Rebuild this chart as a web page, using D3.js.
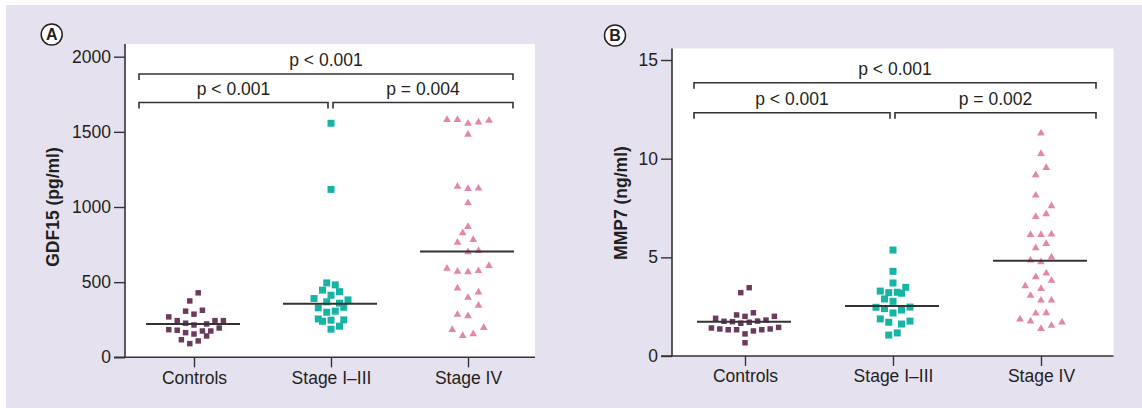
<!DOCTYPE html>
<html>
<head>
<meta charset="utf-8">
<script src="https://cdn.jsdelivr.net/npm/d3@7"></script>
<style>
  html, body { margin: 0; padding: 0; background: #ffffff; }
  svg { display: block; font-family: "Liberation Sans", Arial, sans-serif; }
</style>
</head>
<body>
<svg id="chart" width="1142" height="408"></svg>
<script>
// ---------------- DATA ----------------
const categories = ["Controls", "Stage I\u2013III", "Stage IV"];

const gdfTicks = [0, 500, 1000, 1500, 2000];
const mmpTicks = [0, 5, 10, 15];

// GDF15 (pg/ml)
const gdfControls = [429, 375, 307, 313, 287, 269, 244, 227, 215, 222, 244, 244, 184, 180, 164, 155, 175, 175, 195, 142, 117, 109, 91];
const gdfControlsSlot = [0.5, -0.5, -1, 1, 0, -3, -2, -1, 0, 1.5, 2.5, 3.5, -3, -2, -1, 0, 1, 2, 3, 1.5, -1.5, 0.5, -0.5];
const gdfEarly = [1557, 1117, 495, 482, 447, 437, 413, 391, 382, 369, 360, 333, 329, 300, 307, 255, 240, 247, 249, 187, 207];
const gdfEarlySlot = [0, 0, -0.5, 0.5, -1, 1, 0, -2, 2, -0.5, 1, 1.5, -1.5, -0.5, 0.5, -1.5, -1, 0, 1.5, 0, 1];
const gdfLate = [1580, 1580, 1555, 1564, 1575, 1482, 1137, 1122, 1124, 1027, 869, 827, 782, 764, 700, 709, 591, 571, 567, 575, 609, 460, 397, 433, 344, 284, 275, 184, 144, 155, 197];
const gdfLateSlot = [-2, -1, 0, 1, 2, 0, -1, 0, 1, 0, 0, -0.5, 0.5, -1, 0, 1, -2, -1, 0, 1, 2, -1, 0, 1, 1, -1, 0, -1.5, -0.5, 0.5, 1.5];
const gdfMedians = [222, 357, 704];
const gdfPvalues = ["p < 0.001", "p < 0.001", "p = 0.004"]; // I-IV, Controls-I/III, I/III-IV

// MMP7 (ng/ml)
const mmpControls = [3.46, 3.21, 2.19, 2.08, 2.01, 2.01, 1.91, 1.76, 1.74, 1.66, 1.71, 1.77, 1.82, 1.42, 1.37, 1.33, 1.33, 1.12, 1.27, 1.33, 1.37, 1.45, 0.67];
const mmpControlsSlot = [0.5, -0.5, 1, -1, 0, 3.5, -3.5, -2.5, -1.5, -0.5, 0.5, 1.5, 2.5, -4, -3, -2, -1, 0, 1, 2, 3, 4, 0];
const mmpEarly = [5.37, 4.29, 3.70, 3.48, 3.29, 3.21, 3.23, 3.18, 2.89, 2.77, 2.47, 2.40, 2.48, 2.18, 2.33, 1.88, 1.71, 1.62, 1.77, 1.06, 1.17];
const mmpEarlySlot = [0, 0, 0, 1.5, -1.5, -0.5, 0.5, 1, -1, 0, -2, -1, 2, 0, 1, -1.5, -0.5, 1, 2, -0.5, 0.5];
const mmpLate = [11.29, 10.25, 9.54, 9.17, 8.14, 7.60, 7.20, 7.06, 6.15, 6.15, 6.17, 5.69, 5.47, 5.00, 4.85, 4.76, 4.19, 4.00, 3.82, 3.55, 3.41, 3.06, 2.82, 2.82, 2.16, 2.18, 1.86, 1.76, 1.38, 1.54, 1.71];
const mmpLateSlot = [0, 0, 0.5, -0.5, -0.5, 1, 0.5, -0.5, -1, 0, 1, 0.5, -0.5, 1, -1, 0, 0.5, -0.5, 1, -1.5, 0, -1, 0, 1, -0.5, 0.5, -2, -1, 0, 1, 2];
const mmpMedians = [1.74, 2.53, 4.83];
const mmpPvalues = ["p < 0.001", "p < 0.001", "p = 0.002"];

// ---------------- STYLE ----------------
const TEXT = "#231f20";
const AXIS = "#333333";
const colors = ["#6b3a5e", "#15b4a4", "#e385ad"];
const FONT = 17.5;

const svg = d3.select("#chart");
svg.append("rect").attr("x", 6).attr("y", 5).attr("width", 1136).attr("height", 403).attr("fill", "#e6e1ef");

function drawPanel(cfg) {
  const g = svg.append("g");
  // white plot area
  g.append("rect")
    .attr("x", cfg.left).attr("y", cfg.top)
    .attr("width", cfg.right - cfg.left).attr("height", cfg.bottom - cfg.top)
    .attr("fill", "#ffffff");

  const y = d3.scaleLinear().domain([0, cfg.ticks[cfg.ticks.length - 1]]).range([cfg.bottom, cfg.yTop]);
  const x = d3.scalePoint().domain(categories).range(cfg.xRange);

  // y axis
  const ya = g.append("g").attr("transform", `translate(${cfg.left},0)`)
    .call(d3.axisLeft(y).tickValues(cfg.ticks).tickSize(11).tickSizeOuter(0).tickPadding(3).tickFormat(d3.format("d")));
  ya.select(".domain").remove();
  ya.selectAll(".tick line").attr("stroke", AXIS).attr("stroke-width", 1.4);
  ya.selectAll(".tick text").attr("fill", TEXT).style("font-size", FONT + "px").style("font-family", "Liberation Sans, Arial, sans-serif");
  g.append("line").attr("x1", cfg.left).attr("x2", cfg.left).attr("y1", cfg.top).attr("y2", cfg.bottom)
    .attr("stroke", AXIS).attr("stroke-width", 1.6);

  // x axis
  const xa = g.append("g").attr("transform", `translate(0,${cfg.bottom})`)
    .call(d3.axisBottom(x).tickSize(10).tickSizeOuter(0).tickPadding(4));
  xa.select(".domain").remove();
  xa.selectAll(".tick line").attr("stroke", AXIS).attr("stroke-width", 1.4);
  xa.selectAll(".tick text").attr("fill", TEXT).style("font-size", FONT + "px").style("font-family", "Liberation Sans, Arial, sans-serif");
  g.append("line").attr("x1", cfg.left - 11).attr("x2", cfg.right).attr("y1", cfg.bottom).attr("y2", cfg.bottom)
    .attr("stroke", AXIS).attr("stroke-width", 1.6);

  // y title
  g.append("text")
    .attr("transform", `translate(${cfg.titleX},${cfg.titleY}) rotate(-90)`)
    .attr("text-anchor", "middle").attr("fill", TEXT)
    .style("font-size", FONT + "px").style("font-weight", "bold")
    .text(cfg.title);

  // panel letter
  g.append("circle").attr("cx", cfg.letterX).attr("cy", cfg.letterY).attr("r", 10.5)
    .attr("fill", "#ffffff").attr("stroke", "#231f20").attr("stroke-width", 1.5);
  g.append("text").attr("x", cfg.letterX).attr("y", cfg.letterY).attr("dy", "0.36em")
    .attr("text-anchor", "middle").attr("fill", TEXT)
    .style("font-size", "16px").style("font-weight", "bold").text(cfg.letter);

  // points
  const slotW = [8.4, 8.5, 10.5];
  const shapes = [d3.symbolSquare, d3.symbolSquare, d3.symbolTriangle];
  const sizes = [30, 49, 26];
  cfg.groups.forEach((grp, i) => {
    const sx = d3.scaleLinear().domain([-1, 1]).range([-slotW[i], slotW[i]]);
    const cx = x(categories[i]);
    const sym = d3.symbol().type(shapes[i]).size(sizes[i]);
    g.append("g").selectAll("path").data(grp.values.map((v, k) => ({ v, s: grp.slots[k] })))
      .join("path")
      .attr("d", sym)
      .attr("transform", d => `translate(${cx + sx(d.s)},${y(d.v)})`)
      .attr("fill", colors[i]);
  });

  // medians
  g.append("g").selectAll("line").data(cfg.medians).join("line")
    .attr("x1", (d, i) => x(categories[i]) - 48)
    .attr("x2", (d, i) => x(categories[i]) + 46)
    .attr("y1", d => y(d)).attr("y2", d => y(d))
    .attr("stroke", AXIS).attr("stroke-width", 2);

  // brackets
  const c0 = x(categories[0]), c1 = x(categories[1]), c2 = x(categories[2]);
  const brackets = [
    { x1: c0 - cfg.padL, x2: c2 + cfg.padR, y: cfg.outerY, label: cfg.pvalues[0] },
    { x1: c0 - cfg.padL, x2: c1 - 3, y: cfg.innerY, label: cfg.pvalues[1] },
    { x1: c1 + 2, x2: c2 + cfg.padR, y: cfg.innerY, label: cfg.pvalues[2] }
  ];
  brackets.forEach(b => {
    g.append("path")
      .attr("d", `M${b.x1},${b.y + 6}V${b.y}H${b.x2}V${b.y + 6}`)
      .attr("fill", "none").attr("stroke", AXIS).attr("stroke-width", 1.6);
    g.append("text").attr("x", (b.x1 + b.x2) / 2).attr("y", b.y - 8)
      .attr("text-anchor", "middle").attr("fill", TEXT)
      .style("font-size", FONT + "px").text(b.label);
  });
}

drawPanel({
  left: 125, right: 535, top: 44, bottom: 357.3, yTop: 56.7,
  xRange: [194, 468], ticks: gdfTicks,
  title: "GDF15 (pg/ml)", titleX: 58.5, titleY: 207,
  letter: "A", letterX: 51.7, letterY: 34.5,
  groups: [
    { values: gdfControls, slots: gdfControlsSlot },
    { values: gdfEarly, slots: gdfEarlySlot },
    { values: gdfLate, slots: gdfLateSlot }
  ],
  medians: gdfMedians, pvalues: gdfPvalues,
  padL: 55, padR: 45, outerY: 74, innerY: 102.5
});

drawPanel({
  left: 672, right: 1113.5, top: 48.5, bottom: 356, yTop: 60,
  xRange: [745, 1041], ticks: mmpTicks,
  title: "MMP7 (ng/ml)", titleX: 626.5, titleY: 203,
  letter: "B", letterX: 615, letterY: 35.5,
  groups: [
    { values: mmpControls, slots: mmpControlsSlot },
    { values: mmpEarly, slots: mmpEarlySlot },
    { values: mmpLate, slots: mmpLateSlot }
  ],
  medians: mmpMedians, pvalues: mmpPvalues,
  padL: 51, padR: 55, outerY: 82.7, innerY: 112.7
});
</script>
</body>
</html>
